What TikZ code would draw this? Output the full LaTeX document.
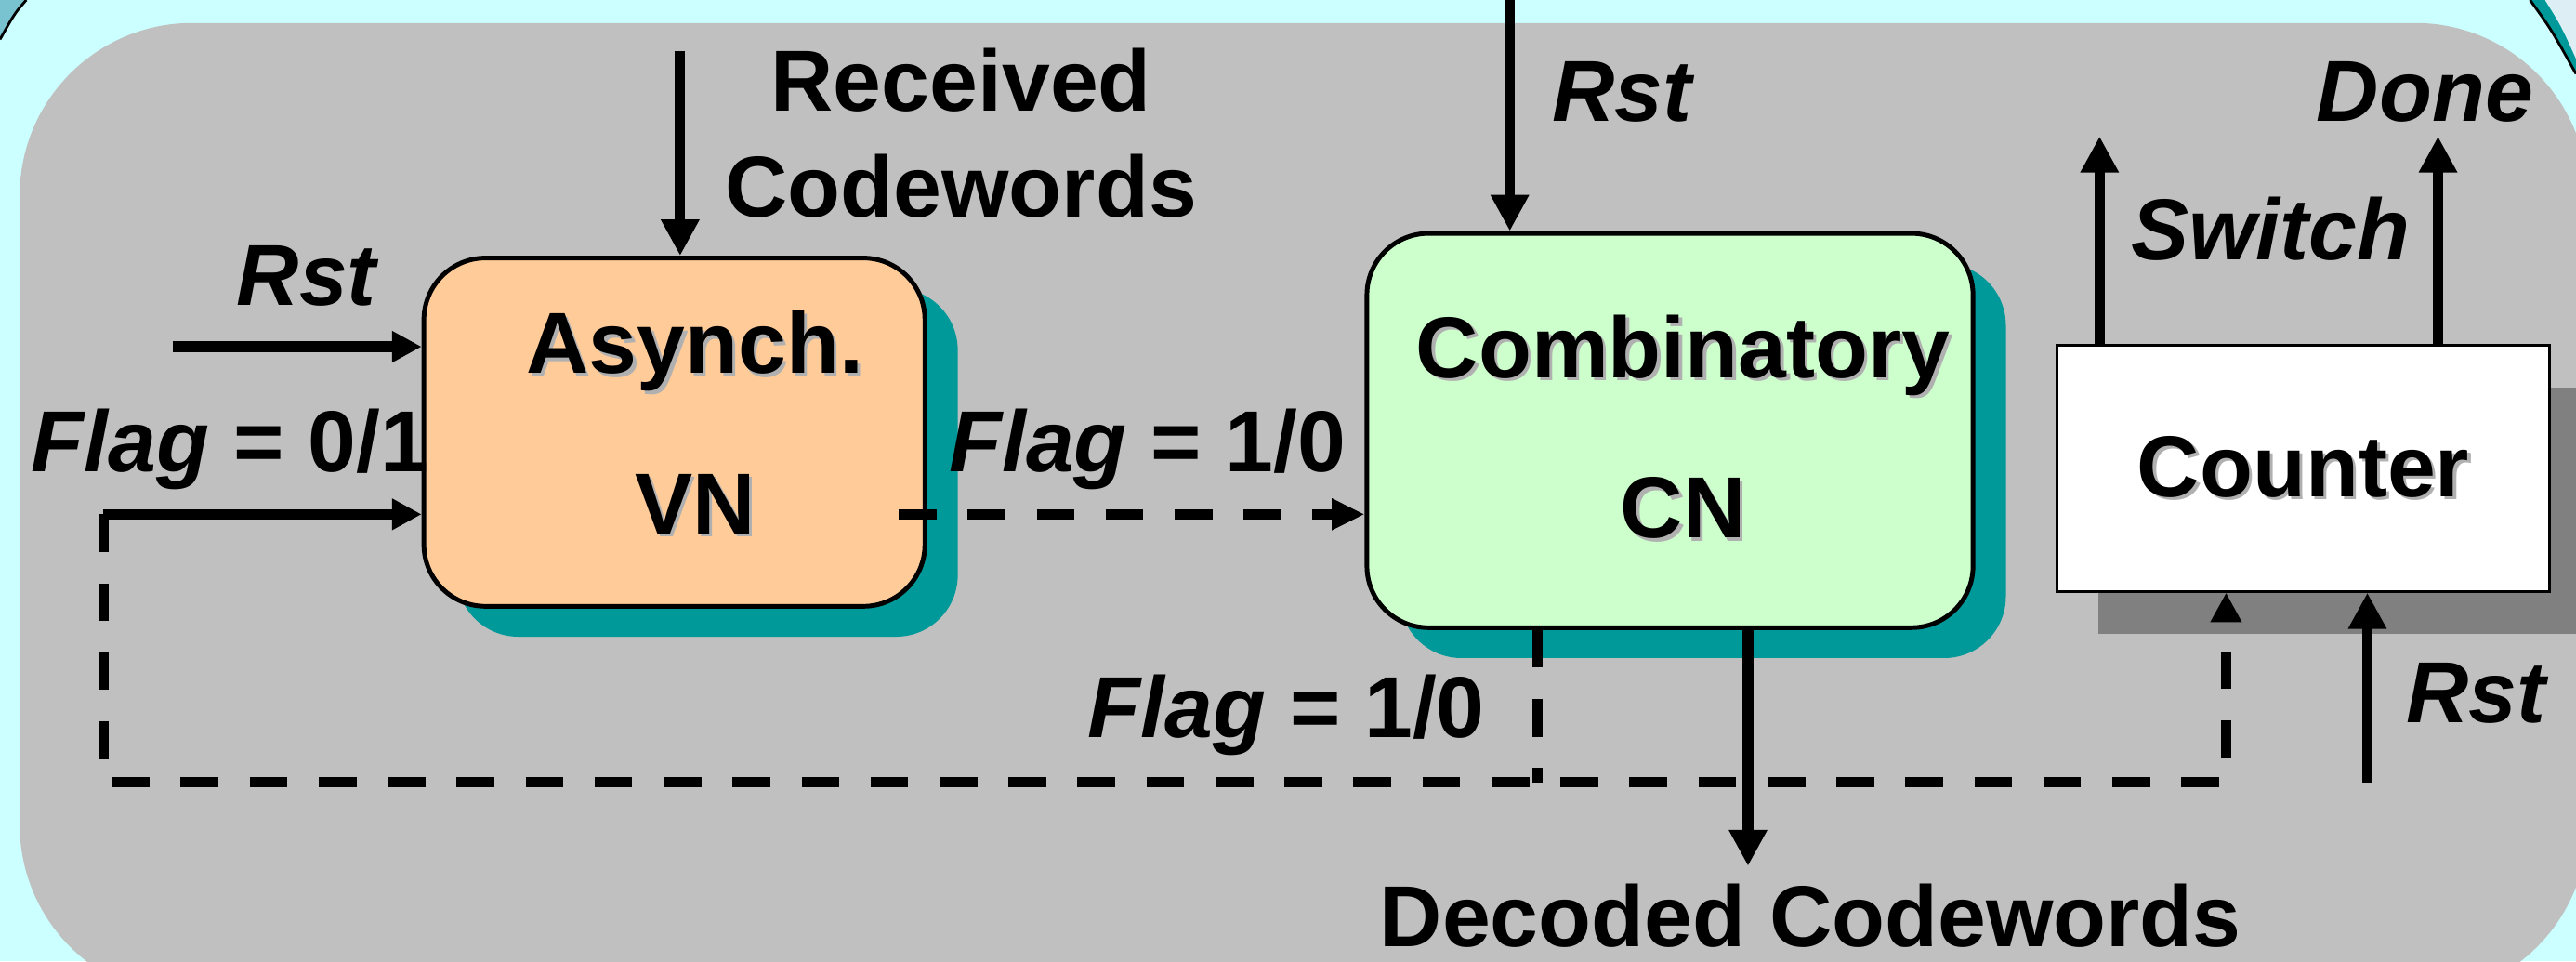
\documentclass[tikz,border=0pt]{standalone}
\usepackage{fontspec}
\setmainfont{Liberation Sans}
\usetikzlibrary{arrows.meta,shadows}

\definecolor{bgcyan}{HTML}{CCFFFF}
\definecolor{panel}{HTML}{C0C0C0}
\definecolor{vnfill}{HTML}{FFCC99}
\definecolor{cnfill}{HTML}{CCFFCC}
\definecolor{shteal}{HTML}{009999}
\definecolor{shgray}{HTML}{808080}
\definecolor{txtsh}{HTML}{B0B0B0}
\definecolor{rimblue}{HTML}{79C2CF}
\definecolor{rimlight}{HTML}{DDEEF5}

% bold text with a light grey copy behind it
\newcommand\shd[1]{\leavevmode\rlap{\kern1.1pt\raisebox{-1.1pt}{\color{txtsh}#1}}#1}

\begin{document}
\begin{tikzpicture}[x=0.02cm,y=-0.02cm,
        blk/.style={draw,line width=1.6pt,rounded corners=0.75cm,align=center,
            font=\fontsize{30}{36}\selectfont\bfseries,
            general shadow={fill=shteal,draw=none,shadow xshift=0.4cm,shadow yshift=-0.37cm}},
        lbl/.style={inner sep=0pt,align=center,font=\fontsize{30}{36.8}\selectfont\bfseries},
        arr/.style={line width=3.6pt,-{Triangle[length=0.44cm,width=0.44cm]}},
        arrs/.style={line width=3.6pt,-{Triangle[length=0.36cm,width=0.36cm]}},
        dsh/.style={line width=3.4pt,dash pattern=on 0.46cm off 0.38cm}]
    \useasboundingbox (0,0) rectangle (1568,585);
    \fill[bgcyan] (0,0) rectangle (1568,585);
    % bits of the outer bubble in the corners
    \fill[rimblue] (0,0) -- (16,0) .. controls (9,8) .. (0,24) -- cycle;
    \draw[line width=0.9pt] (16,0) .. controls (9,8) .. (0,24);
    \fill[rimlight] (1540,0) -- (1568,0) -- (1568,45) -- cycle;
    \fill[shteal] (1540,0) .. controls (1553,18) .. (1568,45) -- (1568,36) .. controls (1559,16) .. (1549,0) -- cycle;
    \draw[line width=0.9pt] (1540,0) .. controls (1553,18) .. (1568,45);
    \fill[panel,rounded corners=2.1cm] (12,14) rectangle (1575,607);

    % blocks
    \node[blk,fill=vnfill,minimum width=6.1cm,minimum height=4.24cm] (VN) at (410.5,263)
        {\hspace*{0.5cm}\shd{Asynch.}\\[19.6pt]\hspace*{0.5cm}\shd{VN}\rule[-0.24cm]{0pt}{0.24cm}};
    \node[blk,fill=cnfill,minimum width=7.38cm,minimum height=4.8cm] (CN) at (1016.5,262)
        {\hspace*{0.32cm}\shd{Combinatory}\\[19.6pt]\hspace*{0.32cm}\shd{CN}\rule[-0.1cm]{0pt}{0.1cm}};
    \node[draw,line width=0.8pt,fill=white,minimum width=6cm,minimum height=3cm,
        font=\fontsize{30}{36}\selectfont\bfseries,
        general shadow={fill=shgray,draw=none,shadow xshift=0.5cm,shadow yshift=-0.52cm}]
        (Cnt) at (1402,285) {\shd{Counter}};

    % free ends of the connectors
    \coordinate (rcv) at (414,31);
    \coordinate (rstvn) at (105,211);
    \coordinate (fin) at (63,313);
    \coordinate (vnout) at (547,313);
    \coordinate (loop) at (1355,476);
    \coordinate (cnf) at (936,476);
    \coordinate (dec) at (1064,527);
    \coordinate (rstcn) at (919,0);
    \coordinate (sw) at (1278,83);
    \coordinate (dn) at (1484,83);
    \coordinate (rstcnt) at (1441,476);

    \draw[arr] (rcv) -- (rcv |- VN.north);
    \draw[arrs] (rstvn) -- (rstvn -| VN.west);
    \draw[arrs] (fin) -- (fin -| VN.west);
    \draw[dsh,-{Triangle[length=0.4cm,width=0.36cm]}] (vnout) -- (vnout -| CN.west);
    \draw[dsh,-{Triangle[length=0.36cm,width=0.36cm]}] (fin) |- (loop) -- (loop |- Cnt.south);
    \draw[dsh] (cnf |- CN.south) -- (cnf);
    \draw[arr] (dec |- CN.south) -- (dec);
    \draw[arr] (rstcn) -- (rstcn |- CN.north);
    \draw[arr] (sw |- Cnt.north) -- (sw);
    \draw[arr] (dn |- Cnt.north) -- (dn);
    \draw[arr] (rstcnt) -- (rstcnt |- Cnt.south);

    % signal names
    \node[lbl] (rcvlbl) at (585,81) {Received\\Codewords};
    \node[lbl,anchor=base] (rstvnlbl) at (187.5,186) {\textit{Rst}};
    \node[lbl,anchor=base] (finlbl) at (140,287) {\textit{Flag} = 0/1};
    \node[lbl,anchor=base] (vnoutlbl) at (698.5,287) {\textit{Flag} = 1/0};
    \node[lbl,anchor=base] (cnflbl) at (783,449) {\textit{Flag} = 1/0};
    \node[lbl,anchor=base] (rstcnlbl) at (988,74) {\textit{Rst}};
    \node[lbl,anchor=base] (swlbl) at (1382,158) {\textit{Switch}};
    \node[lbl,anchor=base] (dnlbl) at (1476,74) {\textit{Done}};
    \node[lbl,anchor=base] (rstcntlbl) at (1508,440) {\textit{Rst}};
    \node[lbl,anchor=base] (declbl) at (1102,576) {Decoded Codewords};
\end{tikzpicture}
\end{document}
